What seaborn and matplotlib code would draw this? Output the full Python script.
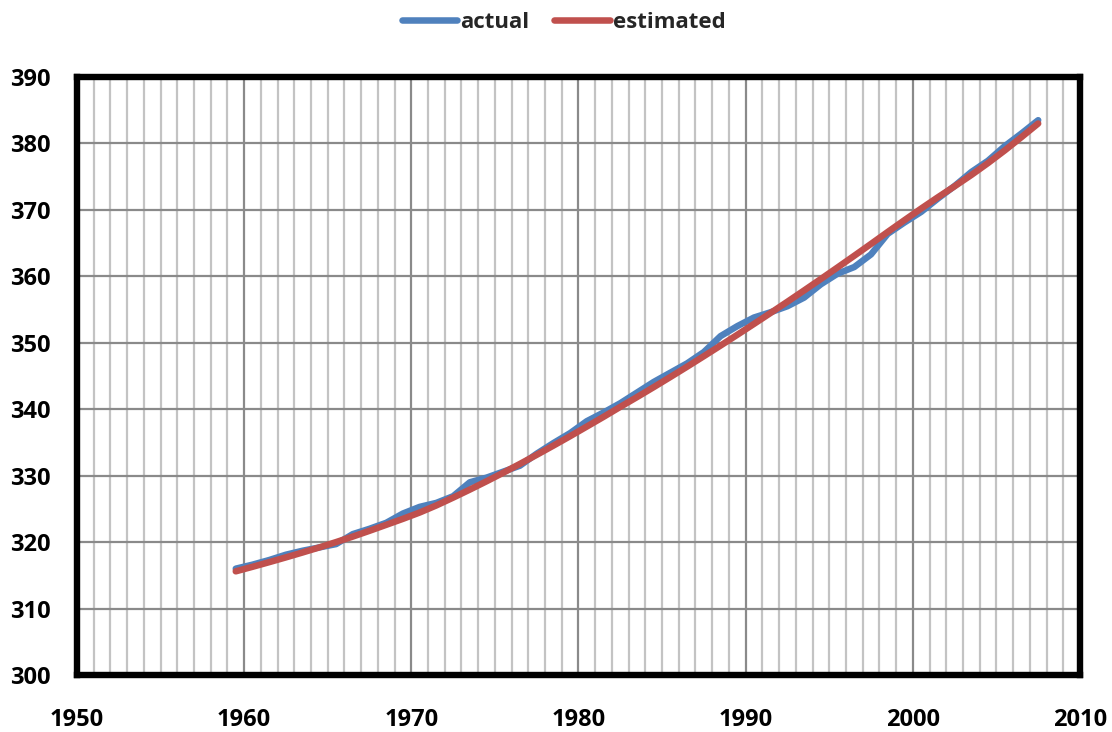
import matplotlib
matplotlib.use("Agg")
import matplotlib.pyplot as plt
from matplotlib.ticker import MultipleLocator
from matplotlib.lines import Line2D
import pandas as pd
import seaborn as sns

# Annual means, plotted at mid-year
years = [1959.5 + i for i in range(49)]

actual = [316.0, 316.6, 317.3, 318.1, 318.7, 319.2, 319.7, 321.2, 322.0, 322.9,
          324.3, 325.3, 325.9, 326.9, 329.0, 329.7, 330.6, 331.5, 333.3, 334.9,
          336.4, 338.2, 339.5, 340.9, 342.5, 344.1, 345.5, 346.9, 348.6, 351.0,
          352.5, 353.8, 354.6, 355.5, 356.8, 358.8, 360.4, 361.4, 363.3, 366.4,
          368.1, 369.7, 371.7, 373.6, 375.7, 377.4, 379.6, 381.5, 383.5]

estimated = [315.60, 316.28, 316.98, 317.70, 318.44, 319.20, 320.00, 320.83, 321.70, 322.60,
             323.50, 324.45, 325.52, 326.69, 327.90, 329.15, 330.44, 331.77, 333.13, 334.52,
             335.94, 337.39, 338.85, 340.35, 341.82, 343.32, 344.85, 346.40, 347.98, 349.58,
             351.20, 352.84, 354.50, 356.18, 357.88, 359.60, 361.34, 363.10, 364.88, 366.68,
             368.45, 370.20, 371.90, 373.55, 375.25, 377.05, 378.95, 380.95, 383.00]

series_names = ["actual", "estimated"]
series_colors = ["#4F81BD", "#C0504D"]

x_ticks = [1950, 1960, 1970, 1980, 1990, 2000, 2010]
y_ticks = [300, 310, 320, 330, 340, 350, 360, 370, 380, 390]

sns.set_style("white")
plt.rcParams["font.family"] = ["Open Sans", "DejaVu Sans"]
plt.rcParams["font.weight"] = "bold"

df = pd.DataFrame({
    "year": years * 2,
    "value": actual + estimated,
    "series": [series_names[0]] * len(years) + [series_names[1]] * len(years),
})

fig = plt.figure(figsize=(11.12, 7.32), dpi=100)
ax = fig.add_axes([0.0692, 0.0779, 0.9020, 0.8169])

sns.lineplot(data=df, x="year", y="value", hue="series", hue_order=series_names,
             palette=series_colors, linewidth=4.7, ax=ax, legend=False,
             solid_capstyle="round", solid_joinstyle="round", zorder=3)

ax.set_xlim(x_ticks[0], x_ticks[-1])
ax.set_ylim(y_ticks[0], y_ticks[-1])
ax.set_xticks(x_ticks)
ax.set_yticks(y_ticks)
ax.xaxis.set_minor_locator(MultipleLocator(1))

ax.grid(which="minor", axis="x", color="#c3c3c3", linewidth=1.6, zorder=0)
ax.grid(which="major", axis="x", color="#8a8a8a", linewidth=1.6, zorder=0)
ax.grid(which="major", axis="y", color="#8a8a8a", linewidth=1.6, zorder=0)
ax.set_axisbelow(True)

for side in ["left", "right", "top", "bottom"]:
    ax.spines[side].set_visible(True)
    ax.spines[side].set_color("black")
    ax.spines[side].set_linewidth(4.6)
    ax.spines[side].set_zorder(5)

ax.tick_params(axis="both", which="major", direction="out", length=5, width=1.3,
               color="#8a8a8a", labelsize=17, labelcolor="black")
ax.tick_params(axis="x", which="major", pad=19)
ax.tick_params(axis="y", which="major", pad=14)
ax.tick_params(axis="x", which="minor", length=0)
for lbl in ax.get_xticklabels() + ax.get_yticklabels():
    lbl.set_fontweight("bold")

ax.set_xlabel("")
ax.set_ylabel("")

handles = [Line2D([0], [0], color=c, linewidth=4.7, solid_capstyle="round")
           for c in series_colors]
fig.legend(handles, series_names, loc="center", bbox_to_anchor=(0.507, 0.969),
           ncol=2, frameon=False, handlelength=2.5, handletextpad=0.15,
           columnspacing=1.1, prop={"weight": "bold", "size": 16})

fig.savefig("out.png", dpi=100)
